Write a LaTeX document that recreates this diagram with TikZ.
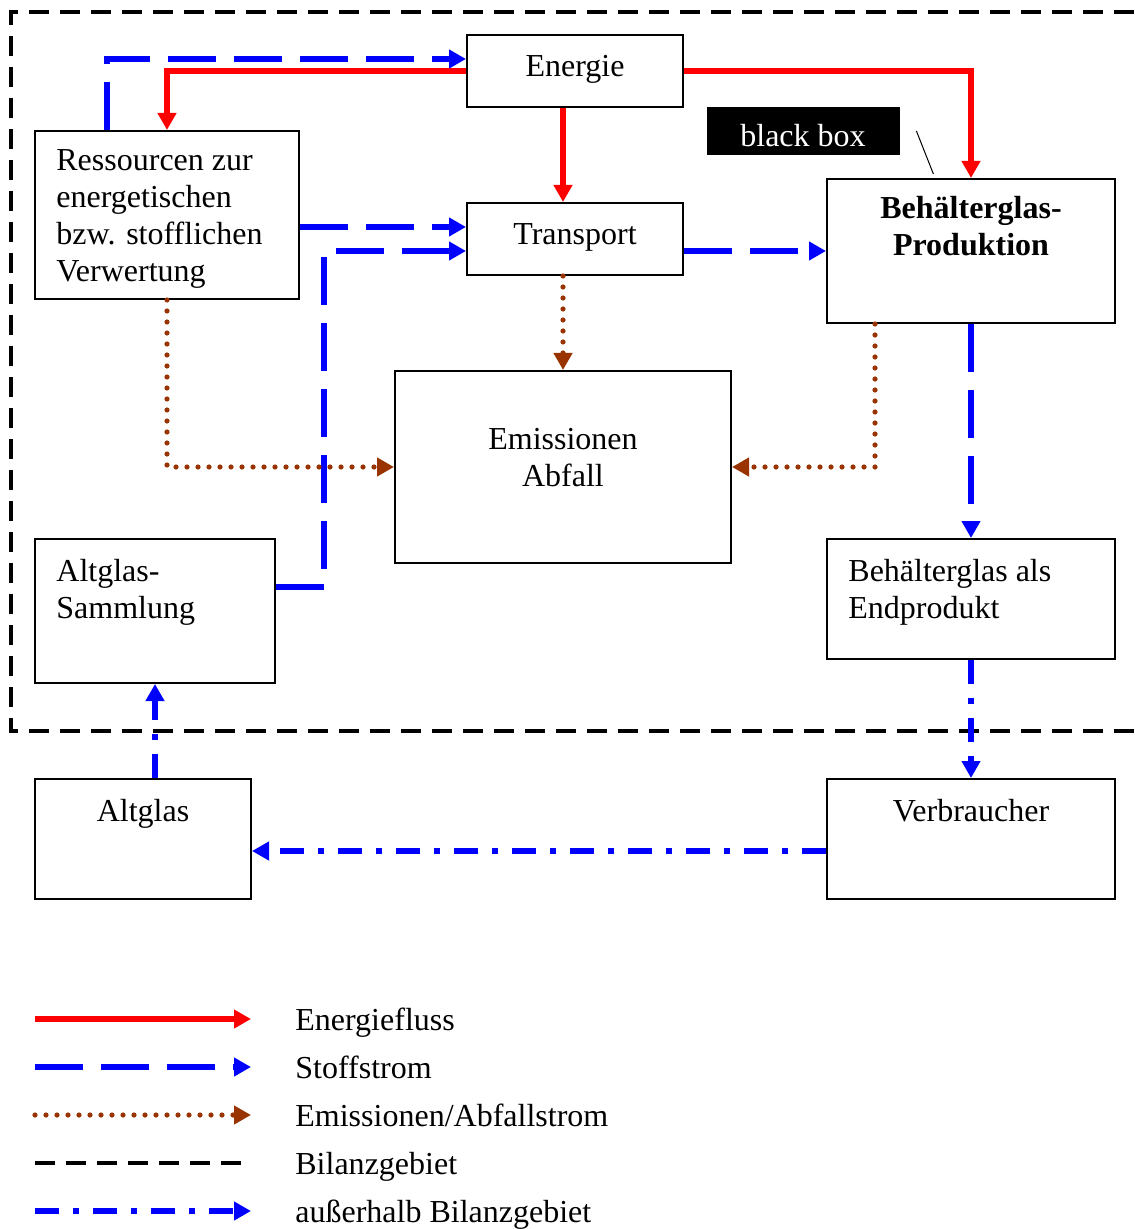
\documentclass[tikz,border=0pt]{standalone}
\usepackage{fontspec}
\setmainfont{Liberation Serif}
\usepackage{tikz}
\usetikzlibrary{arrows.meta, positioning, calc}
\definecolor{energyred}{RGB}{255,0,0}
\definecolor{stoffblue}{RGB}{0,0,255}
\definecolor{abfallbrown}{RGB}{153,51,0}
\tikzset{
  box/.style={rectangle, draw=black, line width=1pt, inner sep=0pt},
  boxtext/.style={inner sep=0pt, font=\fontsize{16}{18.5}\selectfont},
  flowtip/.style={-{Triangle[length=8.5pt, width=9pt]}},
  energyflow/.style={flowtip, line width=2.8pt, color=energyred},
  stoffstrom/.style={flowtip, line width=2.6pt, color=stoffblue, dash pattern=on 24pt off 9pt},
  abfallstrom/.style={flowtip, line width=2.6pt, color=abfallbrown, line cap=round, dash pattern=on 0pt off 5.5pt},
  bilanzgebiet/.style={line width=2pt, color=black, dash pattern=on 10pt off 5.5pt},
  aussenstrom/.style={flowtip, line width=2.6pt, color=stoffblue, dash pattern=on 12pt off 7pt on 3pt off 7pt}
}

\begin{document}
\begin{tikzpicture}[x=0.5pt, y=-0.5pt]
  \useasboundingbox (0,0) rectangle (1134,1229);

  % Bilanzgebiet
  \draw[bilanzgebiet] (1134,12) -| (11,731) -- (1134,731);

  % Boxes
  \node[box, minimum width=108pt, minimum height=36pt] (energie) at (575,71) {};
  \node[box, minimum width=132pt, minimum height=84pt] (ressourcen) at (167,215) {};
  \node[box, minimum width=108pt, minimum height=36pt] (transport) at (575,239) {};
  \node[rectangle, fill=black, minimum width=96.5pt, minimum height=24pt, inner sep=0pt] (blackbox) at (803.5,131) {};
  \node[box, minimum width=144pt, minimum height=72pt] (produktion) at (971,251) {};
  \node[box, minimum width=168pt, minimum height=96pt] (emissionen) at (563,467) {};
  \node[box, minimum width=120pt, minimum height=72pt] (sammlung) at (155,611) {};
  \node[box, minimum width=144pt, minimum height=60pt] (endprodukt) at (971,599) {};
  \node[box, minimum width=108pt, minimum height=60pt] (altglas) at (143,839) {};
  \node[box, minimum width=144pt, minimum height=60pt] (verbraucher) at (971,839) {};

  % Texts (base of a multi-line text is its last line)
  \node[boxtext, anchor=base] (energie-t) at (575,77) {Energie};
  \node[boxtext, anchor=base west, align=left] (ressourcen-t) at (56,282) {Ressourcen zur\\energetischen\\bzw. stofflichen\\Verwertung};
  \node[boxtext, anchor=base] (transport-t) at (575,245) {Transport};
  \node[boxtext, anchor=base, text=white] (blackbox-t) at (803,147) {black box};
  \node[boxtext, anchor=base, align=center, font=\fontsize{16}{18.5}\selectfont\bfseries] (produktion-t) at (971,256) {Behälterglas-\\Produktion};
  \node[boxtext, anchor=base, align=center] (emissionen-t) at (563,486) {Emissionen\\Abfall};
  \node[boxtext, anchor=base west, align=left] (sammlung-t) at (56,618) {Altglas-\\Sammlung};
  \node[boxtext, anchor=base west, align=left] (endprodukt-t) at (848,618) {Behälterglas als\\Endprodukt};
  \node[boxtext, anchor=base] (altglas-t) at (143,821) {Altglas};
  \node[boxtext, anchor=base] (verbraucher-t) at (971,821) {Verbraucher};

  % pointer of the black box
  \draw[line width=0.5pt] ([xshift=8pt]blackbox.east) -- ++(8.5pt,-21.5pt);

  % Energiefluss
  \draw[energyflow] (energie.west) -| (ressourcen.north);
  \draw[energyflow] (energie.south -| emissionen.north) -- (transport.north -| emissionen.north);
  \draw[energyflow] (energie.east) -| (produktion.north);

  % Stoffstrom
  \draw[stoffstrom] ([xshift=-30pt]ressourcen.north) |- ([yshift=6pt]energie.west);
  \draw[stoffstrom] ([yshift=6pt]transport.west -| ressourcen.east) -- ([yshift=6pt]transport.west);
  \draw[stoffstrom] ([yshift=12pt]sammlung.east) -- ++(24pt,0) |- ([yshift=-6pt]transport.west);
  \draw[stoffstrom] ([yshift=-6pt]transport.east) -- (produktion.west);
  \draw[stoffstrom] (produktion.south) -- (endprodukt.north);

  % Emissionen/Abfallstrom
  \draw[abfallstrom] (transport.south -| emissionen.north) -- (emissionen.north);
  \draw[abfallstrom] (ressourcen.south) |- (emissionen.west);
  \draw[abfallstrom] ([xshift=-48pt]produktion.south) |- (emissionen.east);

  % ausserhalb Bilanzgebiet
  \draw[aussenstrom] (endprodukt.south) -- (verbraucher.north);
  \draw[aussenstrom] ([yshift=-6pt]verbraucher.west) -- ([yshift=-6pt]verbraucher.west -| altglas.east);
  \draw[aussenstrom] (sammlung.south |- altglas.north) -- (sammlung.south);

  % Legend
  \foreach \st/\txt [count=\i] in {energyflow/Energiefluss, stoffstrom/Stoffstrom,
      abfallstrom/{Emissionen/Abfallstrom}, bilanzgebiet/Bilanzgebiet,
      aussenstrom/außerhalb Bilanzgebiet} {
    \coordinate (legstart\i) at (35,{971+48*\i});
    \coordinate (legend\i) at (251,{971+48*\i});
    \draw[\st] (legstart\i) -- (legend\i);
    \node[boxtext, anchor=base west] (legtext\i) at (295,{982+48*\i}) {\txt};
  }
\end{tikzpicture}
\end{document}
